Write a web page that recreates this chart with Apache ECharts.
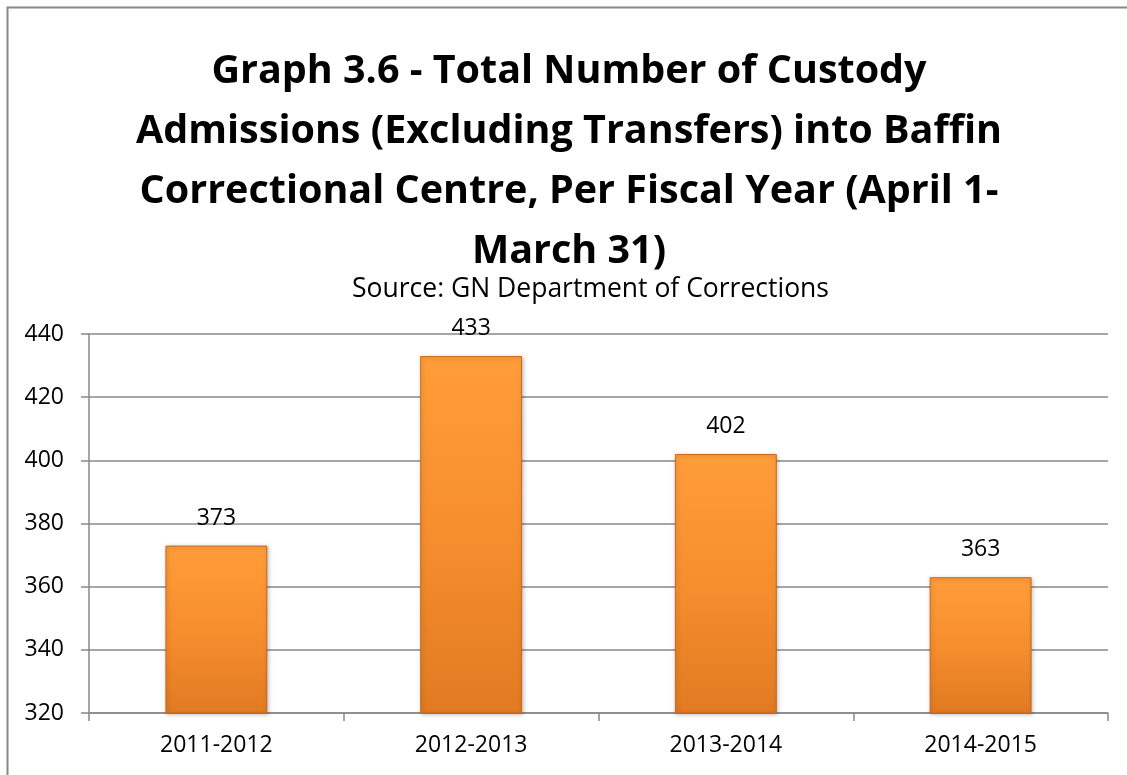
<!DOCTYPE html>
<html>
<head>
<meta charset="utf-8">
<script src="https://cdn.jsdelivr.net/npm/echarts@6/dist/echarts.min.js"></script>
<style>
  html, body { margin: 0; padding: 0; background: #fff; }
  #chart { width: 1127px; height: 775px; }
</style>
</head>
<body>
<div id="chart"></div>
<script>
// data
var years = ['2011-2012', '2012-2013', '2013-2014', '2014-2015'];
var admissions = [373, 433, 402, 363];
var yTicks = { min: 320, max: 440, step: 20 };

var chart = echarts.init(document.getElementById('chart'));

// orange bars, lighter at the top, darker at the bottom
var barFill = new echarts.graphic.LinearGradient(0, 0, 0, 1, [
  { offset: 0, color: '#ff9d3a' },
  { offset: 0.5, color: '#f78e2e' },
  { offset: 1, color: '#e17a22' }
]);

var option = {
  backgroundColor: '#fff',
  animation: false,
  graphic: [{
    // chart frame, only the top and left edges show
    type: 'rect',
    shape: { x: 7.5, y: 7.5, width: 1200, height: 900 },
    style: { fill: 'none', stroke: '#888', lineWidth: 2 },
    silent: true
  }],
  title: [{
    text: 'Graph 3.6 - Total Number of Custody\nAdmissions (Excluding Transfers) into Baffin\nCorrectional Centre, Per Fiscal Year (April 1-\nMarch 31)',
    left: 564,
    top: 37,
    textAlign: 'center',
    textStyle: {
      fontFamily: 'Open Sans',
      fontWeight: 'bold',
      fontSize: 39.5,
      lineHeight: 60,
      color: '#000'
    }
  }, {
    text: 'Source: GN Department of Corrections',
    left: 347,
    top: 270,
    textStyle: {
      fontFamily: 'Open Sans',
      fontWeight: 'normal',
      fontSize: 26.5,
      lineHeight: 28,
      color: '#000'
    }
  }],
  grid: { left: 89, right: 19, top: 334, bottom: 62 },
  xAxis: {
    type: 'category',
    data: years,
    axisLine: { lineStyle: { color: '#888', width: 1.5 } },
    axisTick: { show: true, length: 8, lineStyle: { color: '#888', width: 1.5 } },
    axisLabel: { color: '#000', fontFamily: 'Open Sans', fontSize: 23, margin: 21 }
  },
  yAxis: {
    type: 'value',
    min: yTicks.min,
    max: yTicks.max,
    interval: yTicks.step,
    axisLine: { show: true, lineStyle: { color: '#888', width: 1.5 } },
    axisTick: { show: true, length: 8, lineStyle: { color: '#888', width: 1.5 } },
    axisLabel: { color: '#000', fontFamily: 'Open Sans', fontSize: 23, margin: 25 },
    splitLine: { lineStyle: { color: '#888', width: 1.5 } }
  },
  series: [{
    type: 'bar',
    data: admissions,
    barWidth: '40%',
    itemStyle: {
      color: barFill,
      borderColor: '#c9691c',
      borderWidth: 1,
      shadowColor: 'rgba(0,0,0,0.25)',
      shadowBlur: 4,
      shadowOffsetX: 1,
      shadowOffsetY: 1
    },
    label: {
      show: true,
      position: 'top',
      distance: 16,
      color: '#000',
      fontFamily: 'Open Sans',
      fontSize: 23
    }
  }]
};

chart.setOption(option);
</script>
</body>
</html>
